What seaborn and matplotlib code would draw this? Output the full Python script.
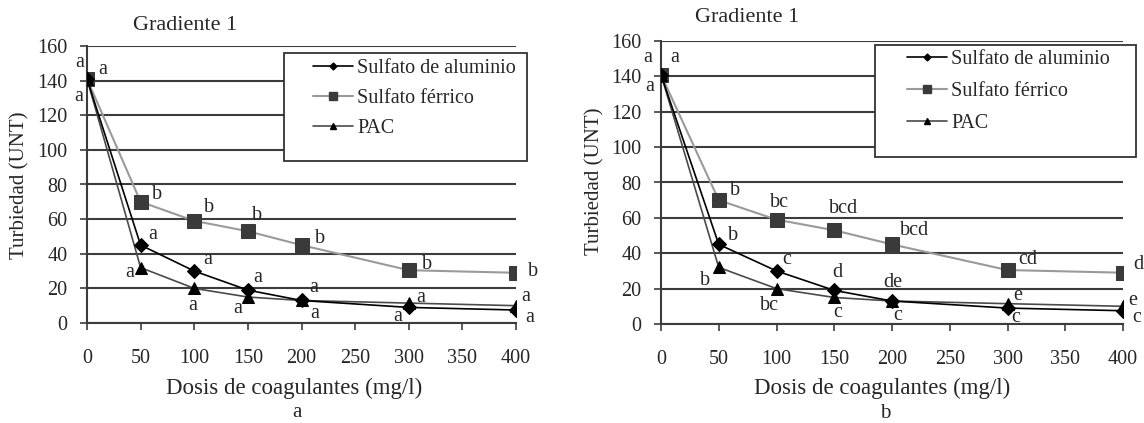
import numpy as np
import pandas as pd
import matplotlib
matplotlib.use("Agg")
import matplotlib.pyplot as plt
import seaborn as sns
from matplotlib.lines import Line2D
from matplotlib.patches import Rectangle

# data
dosis = [0, 50, 100, 150, 200, 300, 400]
alum = [141, 45, 30, 19, 13, 9, 7.5]
ferrico = [141, 70, 59, 53, 45, 30.5, 29]
pac = [141, 32, 20, 15, 13, 11.5, 10]
series_names = ["Sulfato de aluminio", "Sulfato férrico", "PAC"]

# letters of significance, panel a and b
letras_a = {
    "alum": ["a", "a", "a", "a", "a", "a", "a"],
    "ferrico": ["a", "b", "b", "b", "b", "b", "b"],
    "pac": ["a", "a", "a", "a", "a", "a", "a"],
}
letras_b = {
    "alum": ["a", "b", "c", "d", "de", "c", "c"],
    "ferrico": ["a", "b", "bc", "bcd", "bcd", "cd", "d"],
    "pac": ["a", "b", "bc", "c", "c", "e", "e"],
}
# label offsets in pixels (dx right, dy down) from each point
off_a = {
    "alum": [(-7, -16), (12, -11), (13, -12), (10, -13), (12, -13), (-11, 9), (14, 7)],
    "ferrico": [(16, -9), (16, -7), (15, -13), (9, -16), (19, -7), (18, -6), (17, -1)],
    "pac": [(-8, 18), (-11, 5), (-2, 17), (-10, 11), (13, 13), (12, -6), (10, -9)],
}
off_b = {
    "alum": [(-13, -17), (14, -9), (10, -11), (3, -18), (1, -19), (8, 9), (14, 7)],
    "ferrico": [(14, -17), (16, -10), (3, -17), (9, -22), (23, -14), (20, -11), (15, -8)],
    "pac": [(-11, 12), (-14, 13), (-7, 17), (3, 15), (6, 14), (10, -8), (10, -6)],
}

W, H = 1144, 423
sns.set_style("white")
plt.rcParams["font.family"] = ["Liberation Serif", "DejaVu Serif"]

fig = plt.figure(figsize=(W / 100, H / 100), dpi=100)


def px(x0, y0, x1, y1):
    return [x0 / W, 1 - y1 / H, (x1 - x0) / W, (y1 - y0) / H]


styles = {
    "alum": dict(color="black", marker="D", markersize=7, linewidth=1.2,
                 markerfacecolor="black", markeredgecolor="black"),
    "ferrico": dict(color="#9a9a9a", marker="s", markersize=10, linewidth=1.5,
                    markerfacecolor="#3a3a3a", markeredgecolor="#3a3a3a"),
    "pac": dict(color="#4a4a4a", marker="^", markersize=8.5, linewidth=1.2,
                markerfacecolor="black", markeredgecolor="black"),
}
values = {"alum": alum, "ferrico": ferrico, "pac": pac}


def panel(rect, letras, offs, title_xy, leg_box, leg_anchor, caption, cap_xy, ylab_xy, xlab_xy, lspace):
    ax = fig.add_axes(px(*rect))
    for key in ["ferrico", "pac", "alum"]:
        sns.lineplot(x=dosis, y=values[key], ax=ax, legend=False, zorder=3, **styles[key])
        for xv, yv, lt, (dx, dy) in zip(dosis, values[key], letras[key], offs[key]):
            ax.annotate(lt, (xv, yv), xytext=(dx * 0.72, -dy * 0.72), textcoords="offset points",
                        ha="center", va="center", fontsize=14.5, annotation_clip=False)
    ax.set_xlim(0, 400)
    ax.set_ylim(0, 160)
    ax.set_xticks(np.arange(0, 401, 50))
    ax.set_yticks(np.arange(0, 161, 20))
    ax.yaxis.grid(True, color="#3c3c3c", linewidth=1.5)
    ax.set_axisbelow(True)
    for s in ["top", "right"]:
        ax.spines[s].set_visible(False)
    for s in ["left", "bottom"]:
        ax.spines[s].set_color("#3c3c3c")
        ax.spines[s].set_linewidth(1.5)
    ax.tick_params(axis="x", direction="out", length=5, width=1.2, color="#3c3c3c",
                   pad=14, labelsize=14.5, bottom=True)
    ax.tick_params(axis="y", direction="out", length=5, width=1.2, color="#3c3c3c",
                   pad=9, labelsize=14.5, left=True)
    ax.set_xlabel("")
    ax.set_ylabel("")

    fig.text(title_xy[0] / W, 1 - title_xy[1] / H, "Gradiente 1", fontsize=16,
             ha="left", va="center")
    fig.text(ylab_xy[0] / W, 1 - ylab_xy[1] / H, "Turbiedad (UNT)", fontsize=15,
             rotation=90, ha="center", va="center")
    fig.text(xlab_xy[0] / W, 1 - xlab_xy[1] / H, "Dosis de coagulantes (mg/l)", fontsize=16.5,
             ha="center", va="center")
    fig.text(cap_xy[0] / W, 1 - cap_xy[1] / H, caption, fontsize=15,
             ha="center", va="baseline")

    bx0, by0, bx1, by1 = leg_box
    fig.add_artist(Rectangle((bx0 / W, 1 - by1 / H), (bx1 - bx0) / W, (by1 - by0) / H,
                             transform=fig.transFigure, facecolor="white",
                             edgecolor="#333333", linewidth=1.3, zorder=5))
    handles = [
        Line2D([], [], color="black", marker="D", markersize=3.5, linewidth=1.2),
        Line2D([], [], color="#9a9a9a", marker="s", markersize=6, linewidth=1.5,
               markerfacecolor="#3a3a3a", markeredgecolor="#3a3a3a"),
        Line2D([], [], color="#4a4a4a", marker="^", markersize=5, linewidth=1.2,
               markerfacecolor="black", markeredgecolor="black"),
    ]
    leg = fig.legend(handles, series_names, loc="upper left",
                     bbox_to_anchor=(leg_anchor[0] / W, 1 - leg_anchor[1] / H),
                     bbox_transform=fig.transFigure, frameon=False, fontsize=14.5,
                     borderpad=0, borderaxespad=0, handlelength=2.0, handletextpad=0.2,
                     labelspacing=lspace)
    leg.set_zorder(6)
    return ax


panel((87, 46, 516, 323), letras_a, off_a, (133, 25), (284, 53, 527, 161), (313, 59),
      "a", (297, 417), (20, 185), (294, 388), 0.55)
panel((661, 41, 1123, 324), letras_b, off_b, (695, 17), (875, 45, 1136, 157), (907, 50),
      "b", (885, 418), (595, 181), (882, 388), 0.65)

fig.savefig("out.png", dpi=100)
